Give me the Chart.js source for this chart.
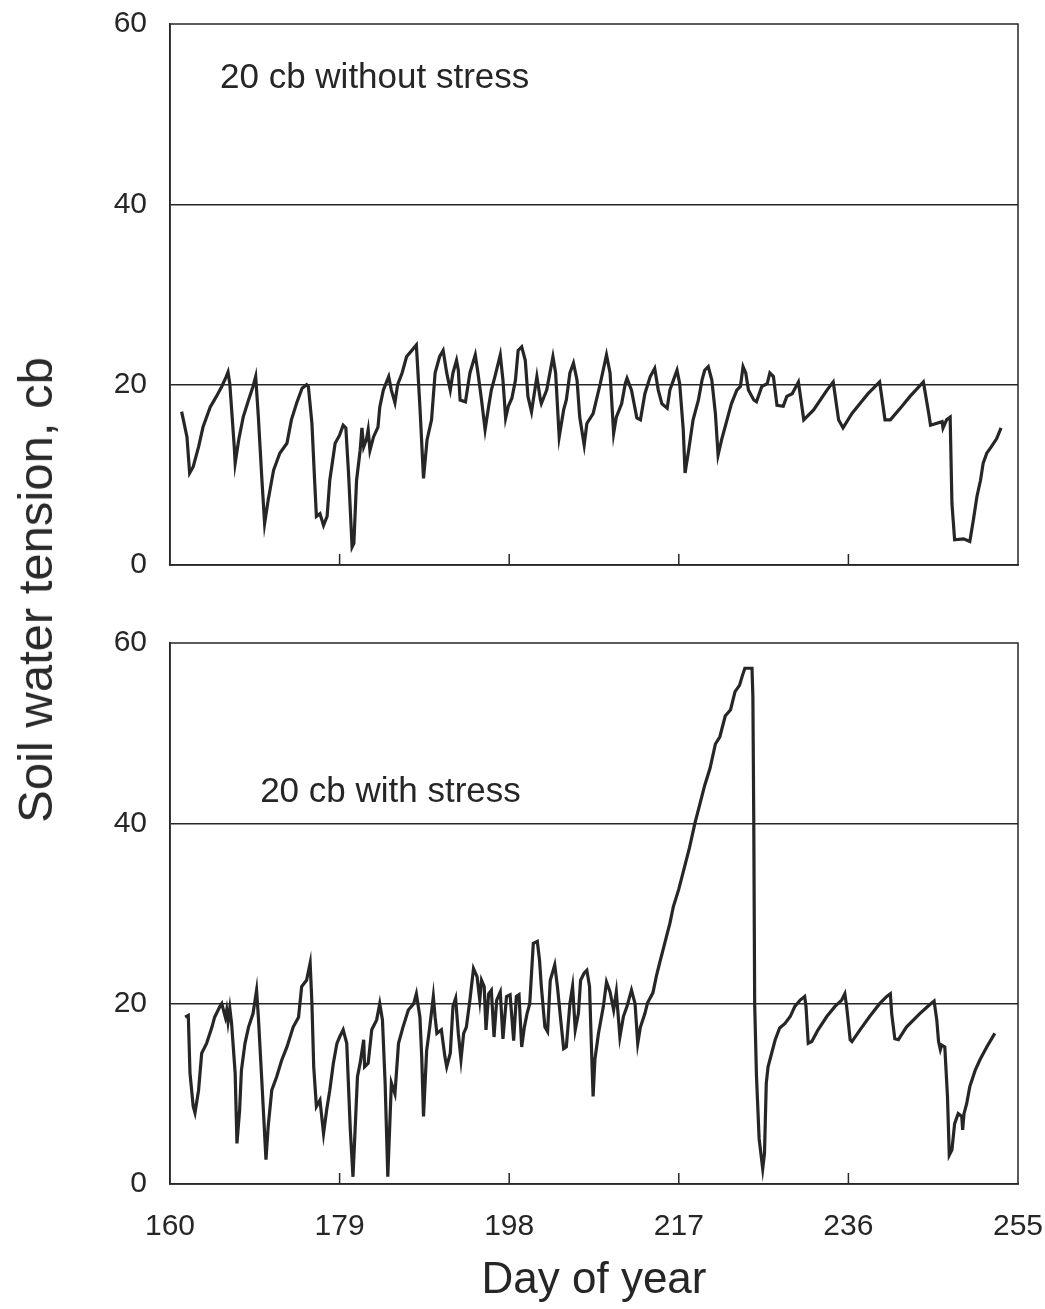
<!DOCTYPE html>
<html>
<head>
<meta charset="utf-8">
<script src="https://cdn.jsdelivr.net/npm/chart.js@4.4.1/dist/chart.umd.min.js"></script>
<style>
  html, body { margin: 0; padding: 0; background: #fff; }
  #page { position: relative; width: 1045px; height: 1309px; overflow: hidden; }
  canvas { position: absolute; left: 0; }
  #topChart { top: 0; }
  #bottomChart { top: 600px; }
  #yTitle {
    position: absolute; left: 35px; top: 590px;
    transform: translate(-50%, -50%) rotate(-90deg);
    font: 49px 'Liberation Sans', Arial, sans-serif;
    color: #2a2a2a; white-space: nowrap;
  }
</style>
</head>
<body>
<div id="page">
  <canvas id="topChart" width="1045" height="600"></canvas>
  <canvas id="bottomChart" width="1045" height="709"></canvas>
  <div id="yTitle">Soil water tension, cb</div>
</div>
<script>
'use strict'

const xTickValues = [160, 179, 198, 217, 236, 255];
const xTickLabels = ['160', '179', '198', '217', '236', '255'];
const yTickValues = [0, 20, 40, 60];
const panelNotes = ['20 cb without stress', '20 cb with stress'];

// top panel: 20 cb without stress
const topDays = [
  161.3, 161.5, 161.9, 162.2, 162.6, 163.2, 163.7, 164.5, 165.2, 165.8,
  166.3, 166.5, 166.7, 167.2, 167.3, 167.7, 168.2, 168.8, 169.3, 169.6,
  169.9, 170.3, 170.6, 171.0, 171.6, 172.3, 173.1, 173.6, 174.2, 174.8,
  175.3, 175.5, 175.9, 176.2, 176.4, 176.8, 177.2, 177.6, 177.9, 178.5,
  179.0, 179.4, 179.7, 180.0, 180.4, 180.6, 180.9, 181.3, 181.5, 181.7,
  182.0, 182.2, 182.4, 182.8, 183.3, 183.5, 183.9, 184.5, 184.8, 185.2,
  185.5, 186.0, 186.5, 187.1, 187.6, 187.7, 188.0, 188.4, 188.8, 189.3,
  189.7, 190.2, 190.6, 191.0, 191.4, 191.7, 192.1, 192.3, 192.5, 193.1,
  193.6, 194.2, 194.5, 194.9, 195.3, 195.7, 196.0, 196.4, 197.0, 197.3,
  197.6, 197.9, 198.3, 198.7, 199.0, 199.4, 199.8, 200.1, 200.5, 201.1,
  201.5, 201.6, 202.2, 202.9, 203.2, 203.6, 204.1, 204.4, 204.8, 205.2,
  205.6, 205.9, 206.4, 206.7, 207.4, 208.2, 208.9, 209.3, 209.7, 210.0,
  210.6, 211.0, 211.2, 211.7, 212.3, 212.7, 213.2, 213.8, 214.3, 214.7,
  215.1, 215.7, 216.0, 216.4, 216.8, 217.1, 217.5, 217.7, 218.1, 218.6,
  219.2, 219.6, 219.9, 220.3, 220.7, 221.1, 221.4, 221.8, 222.4, 222.9,
  223.5, 223.9, 224.2, 224.5, 224.8, 225.4, 225.7, 226.3, 226.9, 227.2,
  227.6, 228.0, 228.7, 229.1, 229.7, 230.4, 231.0, 232.1, 233.6, 234.3,
  234.9, 235.4, 236.4, 237.3, 238.2, 239.5, 240.1, 240.7, 242.0, 242.9,
  244.4, 245.0, 245.2, 246.5, 246.6, 247.0, 247.4, 247.6, 247.9, 248.9,
  249.6, 250.0, 250.4, 250.8, 251.1, 251.5, 252.0, 252.6, 253.1
];
const topTension = [
  17.0, 16.1, 14.2, 10.2, 10.9, 13.1, 15.3, 17.5, 18.7, 19.8,
  20.9, 21.4, 20.1, 13.1, 11.3, 13.9, 16.4, 18.3, 19.8, 20.9,
  16.4, 9.4, 4.6, 7.2, 10.5, 12.4, 13.5, 16.1, 18.0, 19.6,
  20.0, 19.8, 15.7, 9.4, 5.4, 5.7, 4.4, 5.4, 9.4, 13.5,
  14.4, 15.5, 15.2, 10.2, 2.0, 2.4, 9.4, 12.7, 15.2, 13.1,
  13.9, 15.0, 12.7, 14.2, 15.3, 17.5, 19.4, 20.9, 19.4, 18.0,
  20.0, 21.3, 23.1, 23.8, 24.4, 22.7, 17.5, 9.6, 13.9, 16.1,
  21.3, 23.1, 23.8, 21.3, 19.4, 21.3, 22.7, 21.6, 18.3, 18.1,
  21.3, 23.3, 21.3, 18.3, 15.0, 17.6, 19.4, 20.9, 23.3, 20.5,
  16.3, 17.6, 18.5, 20.5, 23.8, 24.2, 22.7, 18.7, 17.0, 20.9,
  18.3, 17.9, 19.4, 23.1, 21.3, 14.2, 17.2, 18.3, 21.3, 22.4,
  20.5, 16.4, 13.3, 15.7, 16.8, 20.1, 23.3, 21.3, 14.6, 16.4,
  17.9, 20.1, 20.7, 19.4, 16.3, 16.1, 19.0, 20.9, 21.8, 19.4,
  17.9, 17.4, 19.4, 20.5, 21.6, 20.1, 15.0, 10.2, 12.7, 16.1,
  18.3, 20.5, 21.6, 22.0, 20.5, 16.8, 12.2, 13.9, 16.1, 17.9,
  19.4, 19.8, 22.0, 21.3, 19.4, 18.3, 18.1, 19.8, 20.1, 21.3,
  20.9, 17.7, 17.6, 18.7, 19.0, 20.3, 16.1, 17.2, 19.4, 20.3,
  16.1, 15.2, 16.8, 17.9, 19.0, 20.3, 16.1, 16.1, 17.6, 18.7,
  20.3, 16.8, 15.5, 15.9, 15.2, 16.1, 16.4, 6.8, 2.8, 2.9,
  2.6, 5.0, 7.6, 9.4, 11.3, 12.4, 13.1, 14.0, 15.2
];

// bottom panel: 20 cb with stress
const bottomDays = [
  161.7, 162.05, 162.24, 162.6, 162.8, 163.2, 163.55, 164.1, 164.7, 165.0,
  165.6, 165.8, 166.2, 166.35, 166.5, 166.7, 166.9, 167.3, 167.5, 167.8,
  168.0, 168.4, 168.8, 169.3, 169.7, 169.9, 170.3, 170.75, 171.0, 171.4,
  171.95, 172.5, 173.1, 173.8, 174.4, 174.75, 175.3, 175.7, 175.9, 176.1,
  176.4, 176.8, 177.2, 177.55, 177.9, 178.3, 178.7, 179.0, 179.4, 179.8,
  180.2, 180.5, 180.7, 181.0, 181.3, 181.7, 181.8, 182.2, 182.6, 183.15,
  183.5, 183.8, 184.1, 184.4, 184.6, 184.8, 185.2, 185.6, 186.1, 186.7,
  187.3, 187.6, 188.0, 188.2, 188.4, 188.75, 189.1, 189.5, 189.7, 189.9,
  190.4, 190.8, 191.0, 191.4, 191.7, 192.0, 192.3, 192.6, 192.9, 193.2,
  193.6, 194.0, 194.4, 194.7, 194.9, 195.2, 195.4, 195.7, 196.0, 196.3,
  196.6, 197.0, 197.3, 197.7, 198.1, 198.5, 198.8, 199.1, 199.4, 199.7,
  200.0, 200.3, 200.7, 201.15, 201.4, 201.6, 202.0, 202.3, 202.6, 203.1,
  203.4, 203.7, 204.1, 204.4, 204.8, 205.1, 205.4, 205.75, 206.0, 206.4,
  206.7, 207.0, 207.2, 207.4, 207.6, 208.0, 208.55, 208.9, 209.3, 209.7,
  210.0, 210.4, 210.8, 211.2, 211.7, 212.1, 212.4, 212.7, 213.2, 213.5,
  214.1, 214.5, 214.9, 215.5, 216.0, 216.4, 217.0, 217.6, 218.2, 218.8,
  219.3, 219.9, 220.5, 221.1, 221.6, 222.2, 222.8, 223.3, 223.8, 224.1,
  224.4, 225.2, 225.3, 225.4, 225.5, 225.7, 226.0, 226.4, 226.6, 226.8,
  227.0, 227.4, 227.8, 228.3, 228.9, 229.5, 230.0, 230.6, 231.1, 231.25,
  231.5, 231.9, 232.6, 233.6, 234.5, 235.25, 235.6, 235.8, 236.2, 236.4,
  237.3, 238.4, 239.5, 240.3, 240.7, 240.85, 241.2, 241.6, 242.5, 244.0,
  245.0, 245.6, 245.9, 246.1, 246.3, 246.45, 246.8, 247.1, 247.3, 247.6,
  247.9, 248.3, 248.7, 248.8, 248.95, 249.25, 249.6, 250.2, 250.75, 251.5,
  252.4
];
const bottomTension = [
  18.5, 18.7, 12.3, 8.6, 7.9, 10.4, 14.5, 15.6, 17.4, 18.5,
  19.7, 20.0, 18.5, 19.3, 18.0, 19.5, 17.8, 12.3, 4.5, 8.2,
  12.6, 15.6, 17.4, 18.9, 21.5, 18.5, 11.2, 2.7, 6.4, 10.4,
  11.9, 13.7, 15.2, 17.4, 18.5, 21.9, 22.6, 24.5, 20.0, 13.0,
  8.6, 9.3, 5.6, 8.2, 10.4, 13.4, 15.6, 16.3, 17.1, 15.6,
  6.0, 0.8, 5.2, 11.9, 13.4, 16.0, 13.0, 13.4, 17.1, 18.2,
  20.0, 18.2, 11.2, 0.8, 6.0, 11.2, 10.0, 15.6, 17.4, 19.3,
  20.0, 21.1, 18.5, 14.1, 7.5, 14.8, 17.4, 20.8, 18.5, 16.7,
  17.1, 14.1, 13.0, 14.5, 19.7, 20.6, 16.7, 13.8, 16.7, 17.4,
  20.4, 23.9, 23.0, 20.4, 22.6, 21.9, 17.1, 21.1, 21.5, 16.3,
  20.4, 21.3, 16.1, 20.8, 21.0, 15.9, 20.8, 21.0, 15.2, 17.4,
  18.9, 20.0, 26.7, 26.9, 24.8, 21.9, 17.4, 16.9, 22.6, 24.3,
  21.9, 18.9, 15.0, 15.2, 20.0, 21.9, 17.1, 18.9, 22.6, 23.4,
  23.7, 21.9, 15.6, 9.7, 13.8, 16.7, 19.7, 22.4, 21.3, 19.3,
  21.3, 16.3, 18.6, 19.7, 21.5, 20.0, 15.6, 17.4, 18.9, 20.1,
  21.2, 23.1, 24.7, 27.0, 28.9, 30.8, 32.7, 35.0, 37.3, 40.0,
  41.9, 44.2, 46.1, 48.8, 49.6, 51.9, 52.6, 54.6, 55.3, 56.3,
  57.2, 57.2, 54.0, 40.0, 20.0, 12.0, 5.0, 1.7, 3.4, 11.2,
  13.0, 14.5, 16.0, 17.3, 17.8, 18.6, 19.7, 20.4, 20.8, 19.7,
  15.6, 15.8, 17.1, 18.6, 19.7, 20.4, 21.1, 19.7, 16.0, 15.8,
  17.1, 18.6, 20.0, 20.8, 21.1, 18.9, 16.1, 16.0, 17.4, 18.9,
  19.8, 20.3, 18.2, 15.8, 14.9, 15.4, 15.2, 9.7, 3.2, 3.8,
  6.7, 7.8, 7.5, 6.0, 7.8, 8.9, 10.8, 12.6, 13.8, 15.2,
  16.7
];

const ink = '#262626';
const fontFamily = "'Liberation Sans', Arial, sans-serif";

// box round the plot, inward x ticks and the panel note
const framePlugin = {
  id: 'frame',
  afterDraw(chart, args, opts) {
    const { ctx, chartArea: a, scales: { x, y } } = chart;
    ctx.save();
    ctx.strokeStyle = ink;
    ctx.lineWidth = 1.5;
    ctx.strokeRect(a.left, a.top, a.right - a.left, a.bottom - a.top);
    x.ticks.forEach(t => {
      if (t.value <= x.min || t.value >= x.max) return;
      const px = x.getPixelForValue(t.value);
      ctx.beginPath();
      ctx.moveTo(px, a.bottom);
      ctx.lineTo(px, a.bottom - 11);
      ctx.stroke();
    });
    ctx.fillStyle = ink;
    ctx.font = '35px ' + fontFamily;
    ctx.textAlign = 'left';
    ctx.textBaseline = 'alphabetic';
    ctx.fillText(opts.text, x.getPixelForValue(opts.x), y.getPixelForValue(opts.y));
    ctx.restore();
  }
};

function makePanel(id, days, values, note, padTop, xHeight, showXLabels) {
  const ctx = document.getElementById(id).getContext('2d');
  return new Chart(ctx, {
    type: 'line',
    data: {
      datasets: [{
        data: days.map((d, i) => ({ x: d, y: values[i] })),
        borderColor: ink,
        borderWidth: 3.2,
        pointRadius: 0,
        tension: 0,
        fill: false
      }]
    },
    options: {
      responsive: false,
      animation: false,
      devicePixelRatio: 1,
      layout: { autoPadding: false, padding: { top: padTop, right: 27, left: 0, bottom: 0 } },
      plugins: {
        legend: { display: false },
        tooltip: { enabled: false },
        frame: note
      },
      scales: {
        x: {
          type: 'linear',
          min: 160,
          max: 255,
          afterBuildTicks: s => { s.ticks = xTickValues.map(v => ({ value: v })); },
          afterFit: s => {
            s.height = xHeight;
            s.paddingLeft = 0;
            s.paddingRight = 0;
          },
          ticks: {
            display: showXLabels,
            autoSkip: false,
            maxRotation: 0,
            padding: 25,
            color: ink,
            font: { family: fontFamily, size: 30 },
            callback: (v, i) => xTickLabels[i]
          },
          grid: { display: true, drawOnChartArea: false, drawTicks: false },
          border: { display: true, color: ink, width: 1.5 },
          title: {
            display: showXLabels,
            text: 'Day of year',
            color: ink,
            font: { family: fontFamily, size: 44 },
            padding: { top: 0, bottom: 2 }
          }
        },
        y: {
          min: 0,
          max: 60,
          afterBuildTicks: s => { s.ticks = yTickValues.map(v => ({ value: v })); },
          afterFit: s => {
            s.width = 170;
            s.paddingTop = 0;
            s.paddingBottom = 0;
          },
          ticks: {
            padding: 23,
            color: ink,
            font: { family: fontFamily, size: 30 }
          },
          grid: {
            drawTicks: false,
            lineWidth: 1.5,
            color: c => (c.tick && (c.tick.value === 20 || c.tick.value === 40)) ? ink : 'rgba(0,0,0,0)'
          },
          border: { display: true, color: ink, width: 1.5 }
        }
      }
    },
    plugins: [framePlugin]
  });
}

makePanel('topChart', topDays, topTension,
  { text: panelNotes[0], x: 165.6, y: 52.9 }, 24, 35, false);
makePanel('bottomChart', bottomDays, bottomTension,
  { text: panelNotes[1], x: 170.1, y: 42.4 }, 43, 125, true);
</script>
</body>
</html>
